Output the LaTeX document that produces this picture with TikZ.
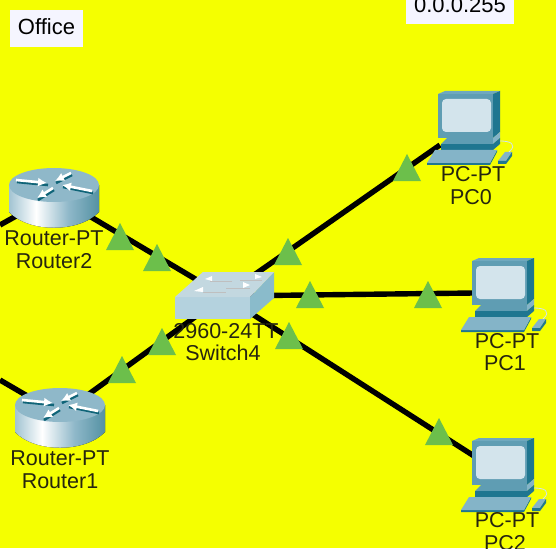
\documentclass[tikz,border=0pt]{standalone}
\usepackage{fontspec}
\setmainfont{Liberation Sans}
\usetikzlibrary{arrows.meta}
\definecolor{bgyellow}{HTML}{F5FF00}
\definecolor{tgreen}{HTML}{6CBF4B}
\definecolor{txt}{HTML}{26260F}
\definecolor{rtop}{HTML}{8FB8C9}
\definecolor{rshadow}{HTML}{0F6478}
\definecolor{swtop}{HTML}{C3D8E0}
\definecolor{swfront}{HTML}{B4D2DE}
\definecolor{swside}{HTML}{8ABBCB}
\definecolor{pcfront}{HTML}{5F9DB3}
\definecolor{pcside}{HTML}{1F7690}
\definecolor{pctop}{HTML}{6FA8BE}
\definecolor{pcscreen}{HTML}{D3E4EC}
\definecolor{pckey}{HTML}{84B4C8}
\pgfdeclarehorizontalshading{routerbody}{100bp}{
  color(0bp)=(rshadow!75!white);
  color(22bp)=(rtop);
  color(40bp)=(white);
  color(58bp)=(rtop);
  color(88bp)=(rshadow!90!white);
  color(100bp)=(rshadow)}
\newcommand{\rarrow}[4]{%
  \draw[rshadow,line width=2.6pt] (#1+1,#2+2) -- (#3+1,#4+2);
  \draw[white,line width=2.6pt,-{Latex[length=9pt,width=9pt]}] (#1,#2) -- (#3,#4);}
\tikzset{
  link/.style={line width=5.4pt,black},
  lab/.style={text=txt,font=\fontsize{21.5}{23}\selectfont,inner sep=0pt,anchor=center},
  notebg/.style={fill=white!96!blue},
  tri/.pic={\fill[tgreen] (0,-14) -- (14,13) -- (-14,13) -- cycle;},
  routericon/.pic={
    \fill[shading=routerbody] (-45,0) -- (-45,27) .. controls (-25,48) and (25,48) .. (45,27) -- (45,0) -- cycle;
    \fill[rtop] (0,0) ellipse[x radius=45,y radius=17];
    \rarrow{-38}{-5}{-7}{-2}
    \rarrow{17}{-12}{1}{-4}
    \rarrow{38}{6}{8}{0}
    \rarrow{-1}{3}{-17}{13}
  },
  switchicon/.pic={
    \fill[swfront] (175,297) -- (250,297) -- (250,319) -- (175,319) -- cycle;
    \fill[swside] (250,297) -- (274,272) -- (274,298) -- (250,319) -- cycle;
    \fill[swtop] (175,297) -- (203,272) -- (274,272) -- (250,297) -- cycle;
    \foreach \a/\b/\c/\d in {232/280/210/280,262/279/240/279,203/291/226/291,250/287/226/287}{
      \draw[black!25,line width=1pt] (\a,\b+1) -- (\c,\d+1);}
    \fill[white] (205,279) -- (212,276) -- (212,281) -- cycle;
    \fill[white] (262,277) -- (255,274) -- (255,279) -- cycle;
    \fill[white] (194,291) -- (203,287) -- (203,292) -- cycle;
    \fill[white] (250,285) -- (243,282) -- (243,288) -- cycle;
  },
  pcicon/.pic={
    \fill[pctop] (0,0) -- (7,-3) -- (62,-3) -- (55,0) -- cycle;
    \fill[pcside] (55,0) -- (62,-3) -- (62,38) -- (55,44) -- cycle;
    \fill[pcfront] (0,0) rectangle (55,44);
    \fill[pcscreen,rounded corners=4pt] (4,5) rectangle (53,38);
    \fill[pcfront] (3,50) -- (9,44) -- (55,44) -- (55,50) -- cycle;
    \fill[pcside] (3,50) -- (55,50) -- (55,56) -- (3,56) -- cycle;
    \fill[pckey] (55,44) -- (62,38) -- (62,44) -- (55,50) -- cycle;
    \fill[pcside] (55,50) -- (62,44) -- (62,50) -- (55,56) -- cycle;
    \fill[pcside] (-11,69) -- (52,69) -- (59,56) -- (59,58) -- (52,71) -- (-11,71) -- cycle;
    \fill[pckey] (-11,69) -- (-3,56) -- (59,56) -- (52,69) -- cycle;
    \fill[pckey] (60,67) -- (67,58) -- (74,58) -- (68,67) -- cycle;
    \fill[pcside] (60,67) -- (68,67) -- (74,58) -- (74,62) -- (68,70) -- (60,70) -- cycle;
    \draw[pcscreen,line width=.8pt] (62,47) .. controls (72,47) and (80,50) .. (71,58);
  }
}
\begin{document}
\begin{tikzpicture}[x=1pt,y=-1pt]
\useasboundingbox (0,0) rectangle (556,548);
\fill[bgyellow] (0,0) rectangle (556,548);
% anchors
\coordinate (router2) at (54,195);
\coordinate (router1) at (60,415);
\coordinate (switch4) at (224,296);
\coordinate (pc0) at (440,145);
\coordinate (pc1) at (474,293);
\coordinate (pc2) at (474,456);
\coordinate (offleft2) at (0,225);
\coordinate (offleft1) at (0,380);
% connectors
\draw[link] (offleft2) -- (router2);
\draw[link] (offleft1) -- (router1);
\draw[link] (router2) -- (switch4);
\draw[link] (router1) -- (switch4);
\draw[link] (switch4) -- (pc0);
\draw[link] (switch4) -- (pc1);
\draw[link] (switch4) -- (pc2);
% devices
\pic at (54,185) {routericon};
\pic at (60,405) {routericon};
\pic at (0,0) {switchicon};
\pic at (438,94) {pcicon};
\pic at (472,261) {pcicon};
\pic at (472,441) {pcicon};
% labels
\node[lab] (r2a) at (54,238) {Router-PT};
\node[lab] (r2b) at (54,261) {Router2};
\node[lab] (r1a) at (60,458) {Router-PT};
\node[lab] (r1b) at (60,481) {Router1};
\node[lab] (s4a) at (226,331) {2960-24TT};
\node[lab] (s4b) at (223,353) {Switch4};
\node[lab] (p0a) at (473,174) {PC-PT};
\node[lab] (p0b) at (471,197) {PC0};
\node[lab] (p1a) at (507,341) {PC-PT};
\node[lab] (p1b) at (505,363) {PC1};
\node[lab] (p2a) at (507,520) {PC-PT};
\node[lab] (p2b) at (505,543) {PC2};
% link lights
\pic at (120,237) {tri};
\pic at (157,258) {tri};
\pic at (162,342) {tri};
\pic at (122,370) {tri};
\pic at (288,252) {tri};
\pic at (407,168) {tri};
\pic at (310,295) {tri};
\pic at (428,295) {tri};
\pic at (289,336) {tri};
\pic at (439,432) {tri};
% notes
\fill[notebg] (10,10) rectangle (83,47);
\node[lab,text=black] (office) at (46.5,27) {\fontsize{22}{23}\selectfont Office};
\fill[notebg] (406,-5) rectangle (514,24);
\node[lab,text=black] (mask) at (460,5) {\fontsize{22}{23}\selectfont 0.0.0.255};
\end{tikzpicture}
\end{document}
